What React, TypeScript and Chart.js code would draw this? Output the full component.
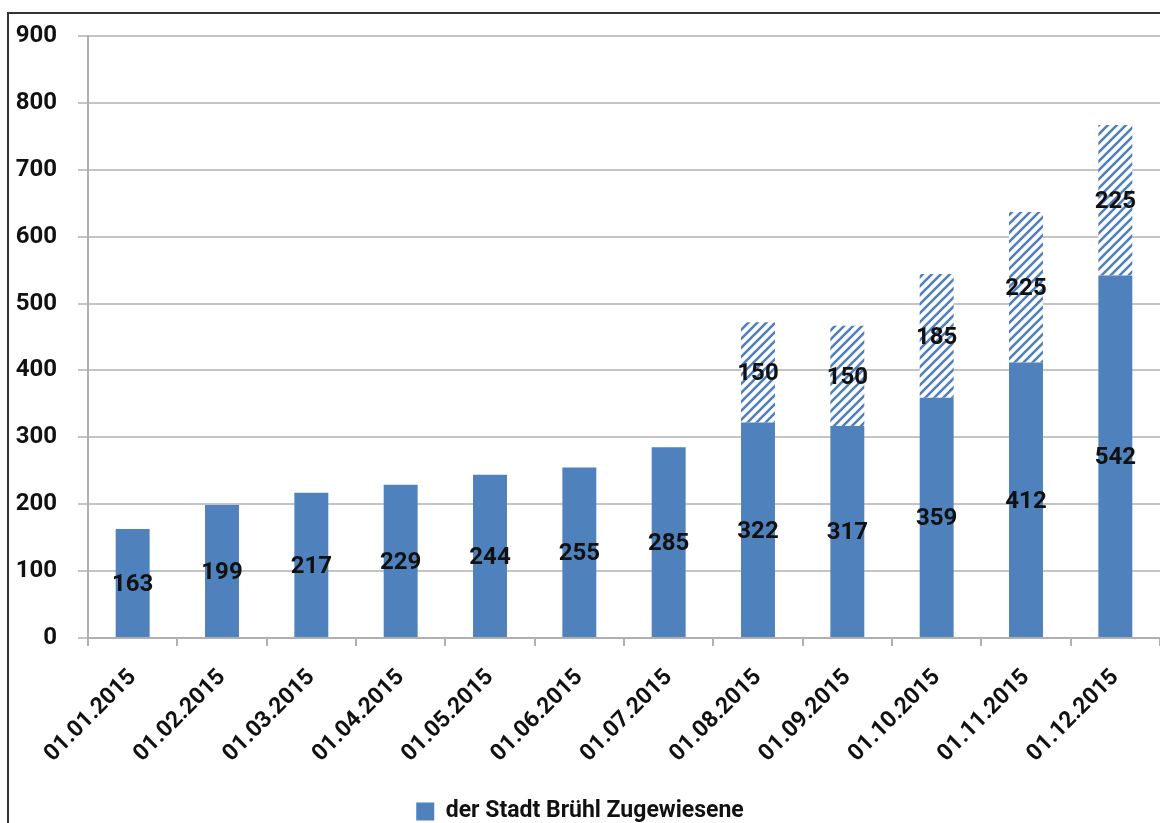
import React, { useEffect, useRef } from "react";
import { Chart, registerables } from "chart.js";

Chart.register(...registerables);

const categories = [
  "01.01.2015", "01.02.2015", "01.03.2015", "01.04.2015", "01.05.2015", "01.06.2015",
  "01.07.2015", "01.08.2015", "01.09.2015", "01.10.2015", "01.11.2015", "01.12.2015",
];
const zugewiesene = [163, 199, 217, 229, 244, 255, 285, 322, 317, 359, 412, 542];
const zusaetzlich = [null, null, null, null, null, null, null, 150, 150, 185, 225, 225];
const seriesName = "der Stadt Brühl Zugewiesene";
const yMin = 0;
const yMax = 900;
const yStep = 100;

const FONT = "Roboto, 'Noto Sans', sans-serif";
const BLUE = "#4f81bd";
const CANVAS_H = 833;

function makeHatch(): CanvasPattern | string {
  const c = document.createElement("canvas");
  const s = 9;
  c.width = s;
  c.height = s;
  const ctx = c.getContext("2d");
  if (!ctx) return BLUE;
  ctx.fillStyle = "#ffffff";
  ctx.fillRect(0, 0, s, s);
  ctx.strokeStyle = BLUE;
  ctx.lineWidth = 2.6;
  ctx.beginPath();
  ctx.moveTo(-1, s + 1);
  ctx.lineTo(s + 1, -1);
  ctx.moveTo(-1, 1);
  ctx.lineTo(1, -1);
  ctx.moveTo(s - 1, s + 1);
  ctx.lineTo(s + 1, s - 1);
  ctx.stroke();
  const p = ctx.createPattern(c, "repeat");
  return p || BLUE;
}

const valueLabels = {
  id: "valueLabels",
  afterDatasetsDraw(chart: any) {
    const ctx = chart.ctx;
    ctx.save();
    ctx.font = `bold 24px ${FONT}`;
    ctx.fillStyle = "#111111";
    ctx.textAlign = "center";
    ctx.textBaseline = "middle";
    chart.data.datasets.forEach((ds: any, i: number) => {
      const meta = chart.getDatasetMeta(i);
      meta.data.forEach((el: any, j: number) => {
        const v = ds.data[j];
        if (v === null || v === undefined) return;
        ctx.fillText(String(v), el.x, (el.y + el.base) / 2 + 2);
      });
    });
    ctx.restore();
  },
};

export default function App() {
  const ref = useRef<HTMLCanvasElement | null>(null);
  useEffect(() => {
    if (!ref.current) return;
    const hatch = makeHatch();
    const chart = new Chart(ref.current, {
      type: "bar",
      data: {
        labels: categories,
        datasets: [
          {
            label: seriesName,
            data: zugewiesene,
            backgroundColor: BLUE,
            barPercentage: 0.38,
            categoryPercentage: 1,
            stack: "s",
          },
          {
            label: "hatch",
            data: zusaetzlich as any,
            backgroundColor: hatch as any,
            barPercentage: 0.38,
            categoryPercentage: 1,
            stack: "s",
          },
        ],
      },
      options: {
        responsive: false,
        animation: false,
        devicePixelRatio: 1,
        layout: { padding: { top: 36, left: 0, right: 0, bottom: 0 } },
        plugins: {
          tooltip: { enabled: false },
          legend: {
            position: "bottom",
            labels: {
              filter: (item: any) => item.datasetIndex === 0,
              boxWidth: 18,
              boxHeight: 18,
              padding: 4,
              color: "#111111",
              font: { family: FONT, size: 23, weight: "bold" },
            },
          },
        },
        scales: {
          x: {
            stacked: true,
            offset: true,
            grid: {
              offset: true,
              drawOnChartArea: false,
              drawTicks: true,
              tickLength: 8,
              color: "#b0b0b0",
              lineWidth: 2,
            },
            border: { color: "#b0b0b0", width: 2 },
            ticks: {
              maxRotation: 45,
              minRotation: 45,
              padding: 18,
              color: "#111111",
              font: { family: FONT, size: 23, weight: "bold" },
              autoSkip: false,
            },
            afterFit: (scale: any) => {
              scale.height = 158;
            },
          },
          y: {
            stacked: true,
            min: yMin,
            max: yMax,
            grid: {
              color: "#c4c4c4",
              lineWidth: 2,
              tickLength: 10,
            },
            border: { color: "#b0b0b0", width: 2 },
            ticks: {
              stepSize: yStep,
              padding: 21,
              color: "#111111",
              font: { family: FONT, size: 24, weight: "bold" },
            },
            afterFit: (scale: any) => {
              scale.width = 88;
            },
          },
        },
      },
      plugins: [valueLabels],
    });
    return () => chart.destroy();
  }, []);

  return (
    <div
      style={{
        position: "absolute",
        left: 0,
        top: 0,
        width: 1160,
        height: 823,
        overflow: "hidden",
        background: "#ffffff",
      }}
    >
      <div
        style={{
          position: "absolute",
          left: 7,
          top: 12,
          width: 1300,
          height: 1000,
          borderLeft: "2px solid #333333",
          borderTop: "2px solid #333333",
        }}
      />
      <canvas
        ref={ref}
        width={1160}
        height={CANVAS_H}
        style={{ position: "absolute", left: 0, top: 0, width: 1160, height: CANVAS_H }}
      />
    </div>
  );
}
